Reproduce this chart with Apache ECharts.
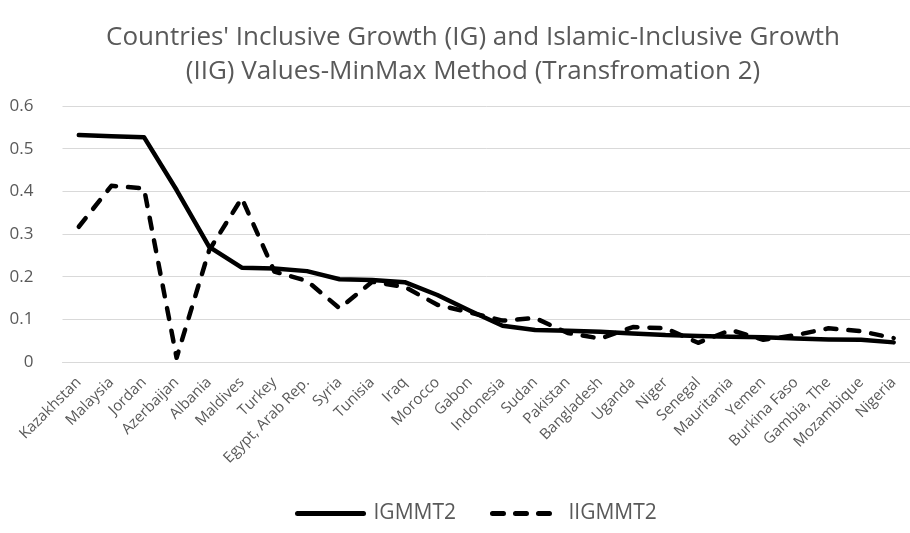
<!DOCTYPE html>
<html>
<head>
<meta charset="utf-8">
<script src="https://cdn.jsdelivr.net/npm/echarts@6/dist/echarts.min.js"></script>
<style>
  html, body { margin: 0; padding: 0; background: #fff; }
  #chart { width: 910px; height: 533px; }
</style>
</head>
<body>
<div id="chart"></div>
<script>
// Countries, ordered by IGMMT2
const countries = [
  'Kazakhstan', 'Malaysia', 'Jordan', 'Azerbaijan', 'Albania', 'Maldives',
  'Turkey', 'Egypt, Arab Rep.', 'Syria', 'Tunisia', 'Iraq', 'Morocco',
  'Gabon', 'Indonesia', 'Sudan', 'Pakistan', 'Bangladesh', 'Uganda',
  'Niger', 'Senegal', 'Mauritania', 'Yemen', 'Burkina Faso', 'Gambia, The',
  'Mozambique', 'Nigeria'
];

// Inclusive Growth, MinMax transformation 2
const igmmt2 = [
  0.532, 0.529, 0.527, 0.403, 0.270, 0.221, 0.219, 0.213, 0.194, 0.192,
  0.187, 0.157, 0.120, 0.085, 0.075, 0.073, 0.071, 0.067, 0.063, 0.061,
  0.059, 0.058, 0.055, 0.053, 0.052, 0.046
];

// Islamic-Inclusive Growth, MinMax transformation 2
const iigmmt2 = [
  0.317, 0.413, 0.407, 0.010, 0.262, 0.384, 0.212, 0.190, 0.126, 0.188,
  0.176, 0.134, 0.116, 0.097, 0.103, 0.068, 0.055, 0.082, 0.079, 0.045,
  0.075, 0.052, 0.063, 0.079, 0.072, 0.056
];

const yTicks = ['0', '0.1', '0.2', '0.3', '0.4', '0.5', '0.6'];

const textGray = '#595959';
const font = 'Open Sans';

const chart = echarts.init(document.getElementById('chart'), null, { renderer: 'canvas' });

chart.setOption({
  animation: false,
  backgroundColor: '#ffffff',
  title: {
    text: "Countries' Inclusive Growth (IG) and Islamic-Inclusive Growth\n(IIG) Values-MinMax Method (Transfromation 2)",
    left: 468,
    textAlign: 'center',
    top: 16,
    textStyle: {
      fontFamily: font,
      fontWeight: 'normal',
      fontSize: 26,
      lineHeight: 34,
      color: textGray
    }
  },
  grid: {
    left: 62.5,
    right: -8,
    top: 106,
    bottom: 171,
    containLabel: false
  },
  legend: {
    bottom: 4,
    left: 290,
    itemWidth: 66,
    itemHeight: 12,
    itemGap: 34,
    itemStyle: { opacity: 0 },
    lineStyle: { width: 5, cap: 'round' },
    textStyle: { fontFamily: font, fontSize: 21, color: textGray, padding: [0, 0, 0, 5] },
    data: ['IGMMT2', 'IIGMMT2']
  },
  xAxis: {
    type: 'category',
    data: countries,
    boundaryGap: true,
    axisLine: { show: true, lineStyle: { color: '#d9d9d9', width: 1 } },
    axisTick: { show: false },
    axisLabel: {
      interval: 0,
      rotate: 45,
      margin: 18,
      fontFamily: font,
      fontSize: 15,
      color: textGray
    },
    splitLine: { show: false }
  },
  yAxis: {
    type: 'value',
    min: 0,
    max: 0.6,
    interval: 0.1,
    axisLine: { show: false },
    axisTick: { show: false },
    axisLabel: {
      margin: 29,
      fontFamily: font,
      fontSize: 17,
      color: textGray,
      formatter: (v) => yTicks[Math.round(v * 10)]
    },
    splitLine: { show: true, lineStyle: { color: '#d9d9d9', width: 1 } }
  },
  series: [
    {
      name: 'IGMMT2',
      type: 'line',
      data: igmmt2,
      symbol: 'none',
      smooth: false,
      lineStyle: { color: '#000000', width: 4.5, cap: 'round', join: 'round' },
      itemStyle: { color: '#000000' }
    },
    {
      name: 'IIGMMT2',
      type: 'line',
      data: iigmmt2,
      symbol: 'none',
      smooth: false,
      lineStyle: { color: '#000000', width: 4.5, type: [11, 12], cap: 'round', join: 'round' },
      itemStyle: { color: '#000000' }
    }
  ]
});
</script>
</body>
</html>
